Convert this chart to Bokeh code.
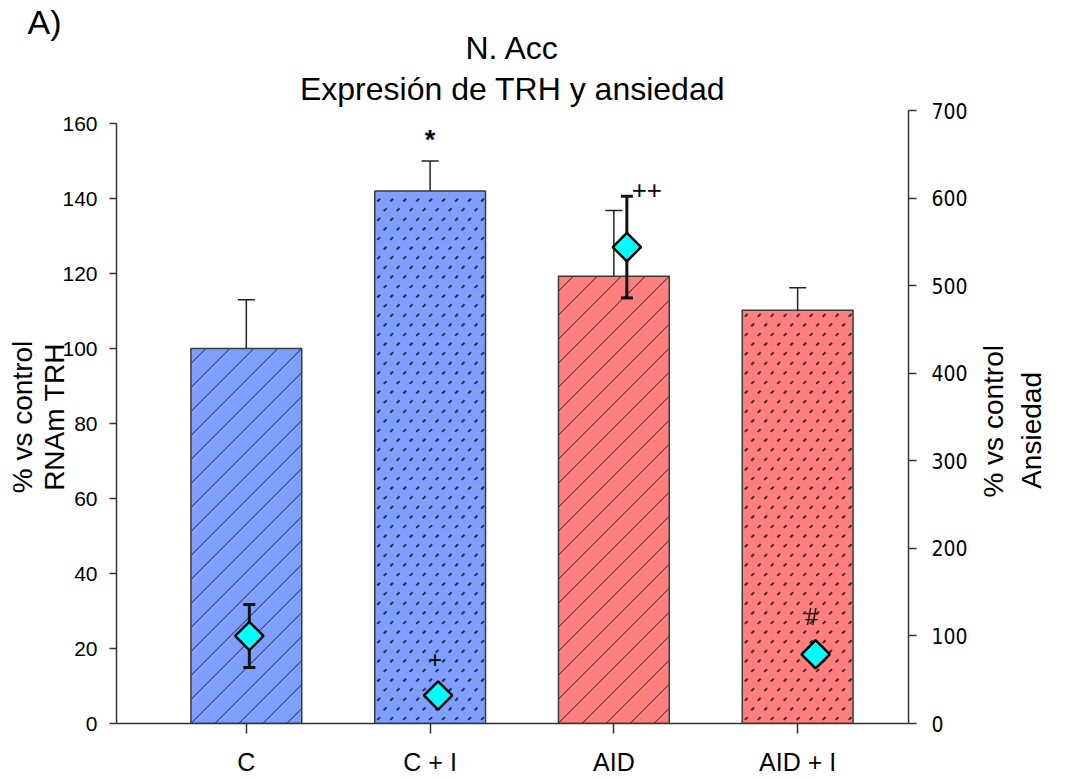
import numpy as np
from bokeh.plotting import figure
from bokeh.models import Range1d, LinearAxis, FixedTicker, ColumnDataSource, Title
from bokeh.core.properties import value
from bokeh.embed import file_html
from bokeh.resources import INLINE

# ---------------- data ----------------
categories = ["C", "C + I", "AID", "AID + I"]
groups = ["C", "C", "AID", "AID"]
treated = [False, True, False, True]
trh_mean = [100.0, 142.0, 119.3, 110.2]      # % vs control, RNAm TRH (left axis)
trh_err = [13.0, 8.0, 17.5, 6.0]
anx_mean = [100.0, 32.0, 544.0, 79.0]        # % vs control, Ansiedad (right axis)
anx_err = [36.0, 0.0, 58.0, 0.0]
trh_sig = ["", "*", "", ""]
anx_sig = ["", "+", "++", "#"]
left_ticks = [0, 20, 40, 60, 80, 100, 120, 140, 160]
right_ticks = [0, 100, 200, 300, 400, 500, 600, 700]
right_title = ["% vs control", "Ansiedad"]

# ---------------- layout ----------------
W, H = 1065, 779
FL, FR, FT, FB = 116, 909, 110, 723          # frame edges (px)
XS = 184.0                                   # px per category (bars)
x_start = -(246 - FL) / XS
x_end = x_start + (FR - FL) / XS
AXS = 189.0                                  # px per category (diamonds)
ax_start = -(249 - FL) / AXS
ax_end = ax_start + (FR - FL) / AXS
YS = 3.75                                    # px per left unit
y_top_left = (FB - FT) / YS
ANX_MAX = 700
BAR_W = 0.603

def to_px_x(x):
    return FL + (x - x_start) * XS

def to_px_y(y):
    return FB - y * YS

def from_px_x(px):
    return x_start + (px - FL) / XS

def from_px_y(py):
    return (FB - py) / YS

def anx_from_px_y(py):
    return round((FB - py) * ANX_MAX / (FB - FT))

FONT = "Liberation Sans"

p = figure(width=W, height=H, output_backend="svg", toolbar_location=None,
           x_range=Range1d(x_start, x_end), y_range=Range1d(0, y_top_left),
           min_border_left=FL, min_border_right=W - FR, min_border_top=FT,
           min_border_bottom=H - FB, outline_line_color=None)
p.grid.visible = False
p.extra_y_ranges = {"anx": Range1d(0, ANX_MAX)}
p.extra_x_ranges = {"anx": Range1d(ax_start, ax_end)}

xs = list(range(len(categories)))

def style_axis(ax, tick_out, standoff, font, size):
    ax.major_tick_in = 0
    ax.major_tick_out = tick_out
    ax.minor_tick_line_color = None
    ax.major_label_standoff = standoff
    ax.major_label_text_font = font
    ax.major_label_text_font_size = size
    ax.major_label_text_color = "black"
    ax.axis_line_color = "#333333"
    ax.axis_line_width = 1.5
    ax.major_tick_line_color = "#333333"
    ax.major_tick_line_width = 1.5
    ax.axis_label_text_font = FONT
    ax.axis_label_text_font_size = "28px"
    ax.axis_label_text_font_style = "normal"
    ax.axis_label_text_color = "black"

xa = p.xaxis[0]
xa.ticker = FixedTicker(ticks=xs)
xa.major_label_overrides = {i: c for i, c in enumerate(categories)}
style_axis(xa, 10, 14, FONT, "25px")

ya = p.yaxis[0]
ya.ticker = FixedTicker(ticks=left_ticks)
ya.bounds = (0, 160)
style_axis(ya, 7, 12, FONT, "21px")
ya.axis_label = "% vs control\nRNAm TRH"
ya.axis_label_text_line_height = 1.05
ya.axis_label_standoff = -11

ra = LinearAxis(y_range_name="anx", ticker=FixedTicker(ticks=right_ticks))
style_axis(ra, 8, 15, "DejaVu Sans Condensed", "21px")
p.add_layout(ra, "right")

# right-hand title: two rotated lines (reading upwards), one per outer axis
for text, start_py, standoff in zip(right_title, [497, 488], [23, 4]):
    pos = anx_from_px_y(start_py)
    t_ax = LinearAxis(y_range_name="anx", ticker=FixedTicker(ticks=[pos]))
    t_ax.major_label_overrides = {pos: text}
    t_ax.axis_line_color = None
    t_ax.major_tick_line_color = None
    t_ax.minor_tick_line_color = None
    t_ax.major_tick_in = 0
    t_ax.major_tick_out = 0
    t_ax.major_label_standoff = standoff
    t_ax.major_label_orientation = np.pi / 2
    t_ax.major_label_text_font = FONT
    t_ax.major_label_text_font_size = "28px"
    t_ax.major_label_text_color = "black"
    p.add_layout(t_ax, "right")

# ---------------- titles (stacked outward from the frame) ----------------
def add_title(text, size, align, standoff, offset=0):
    t = Title(text=text, align=align, text_font=FONT, text_font_size=size,
              text_font_style="normal", text_color="black", offset=offset)
    try:
        t.standoff = standoff
    except Exception:
        t.standoff = 0
    p.add_layout(t, "above")

add_title("Expresión de TRH y ansiedad", "32px", "center", 7)
add_title("N. Acc", "32px", "center", -1)
add_title("A)", "34px", "left", -25, offset=27 - FL)

# ---------------- bars ----------------
fill = ["#7f9fff" if g == "C" else "#ff7f7f" for g in groups]
bars = ColumnDataSource(dict(x=xs, top=trh_mean,
                             upper=[m + e for m, e in zip(trh_mean, trh_err)],
                             fill=fill, sig=trh_sig))
p.vbar(x="x", top="top", bottom=0, width=BAR_W, source=bars,
       fill_color="fill", line_color=None)

# hatching derived from the bar geometry: 45-degree lines / staggered specks
lx0, ly0, lx1, ly1 = [], [], [], []
dx_, dy_, dcol = [], [], []
for xi, top, g, t in zip(xs, trh_mean, groups, treated):
    L, R = to_px_x(xi - BAR_W / 2), to_px_x(xi + BAR_W / 2)
    T, B = to_px_y(top), to_px_y(0)
    if not t:
        c = L + T + 15
        while c < R + B:
            xa0, xa1 = max(L, c - B), min(R, c - T)
            if xa1 - xa0 > 0.5:
                lx0.append(from_px_x(xa0)); ly0.append(from_px_y(c - xa0))
                lx1.append(from_px_x(xa1)); ly1.append(from_px_y(c - xa1))
            c += 24
    else:
        j = 0
        yy = B - 5
        while yy > T + 2:
            xx = L + 4 + (6.5 if j % 2 else 0)
            while xx < R - 2:
                dx_.append(from_px_x(xx)); dy_.append(from_px_y(yy))
                dcol.append("#26304d" if g == "C" else "#4d2626")
                xx += 13
            yy -= 9.6
            j += 1

p.segment(x0=lx0, y0=ly0, x1=lx1, y1=ly1, line_color="#111111",
          line_width=1.0, line_alpha=0.9)
p.scatter(x=dx_, y=dy_, marker="dash", angle=np.pi / 4, size=4,
          line_color=dcol, line_width=2.0)
p.vbar(x="x", top="top", bottom=0, width=BAR_W, source=bars,
       fill_color=None, line_color="#3a3a3a", line_width=1.5)

p.segment(x0="x", y0="top", x1="x", y1="upper", source=bars,
          line_color="#222222", line_width=1.5)
p.scatter(x="x", y="upper", marker="dash", size=17, source=bars,
          line_color="#222222", line_width=1.5)
p.text(x="x", y="upper", text="sig", source=bars, y_offset=-6,
       text_font=value(FONT), text_font_style="bold", text_font_size="27px",
       text_align="center", text_baseline="bottom", text_color="black")

# ---------------- diamonds ----------------
anx = ColumnDataSource(dict(x=xs, m=anx_mean,
                            lo=[m - e for m, e in zip(anx_mean, anx_err)],
                            hi=[m + e for m, e in zip(anx_mean, anx_err)]))
p.segment(x0="x", y0="lo", x1="x", y1="hi", source=anx,
          x_range_name="anx", y_range_name="anx", line_color="#111111", line_width=3)
p.scatter(x="x", y="hi", marker="dash", size=12, source=anx,
          x_range_name="anx", y_range_name="anx", line_color="#111111", line_width=3)
p.scatter(x="x", y="lo", marker="dash", size=12, source=anx,
          x_range_name="anx", y_range_name="anx", line_color="#111111", line_width=3)
p.scatter(x="x", y="m", marker="square", angle=np.pi / 4, size=20, source=anx,
          x_range_name="anx", y_range_name="anx", fill_color="#00ffff",
          line_color="black", line_width=2.5)

sig_src = ColumnDataSource(dict(
    x=xs, y=[m + e for m, e in zip(anx_mean, anx_err)], text=anx_sig,
    xo=[0, -3, 20, -4], yo=[0, -36, -6, -38],
    font=[FONT, FONT, FONT, "Liberation Serif"],
    size=["24px", "24px", "26px", "26px"]))
p.text(x="x", y="y", text="text", source=sig_src, x_offset="xo", y_offset="yo",
       x_range_name="anx", y_range_name="anx", text_font="font",
       text_font_size="size", text_align="center", text_baseline="middle",
       text_color="black")

open("out.html", "w").write(file_html(p, INLINE))
